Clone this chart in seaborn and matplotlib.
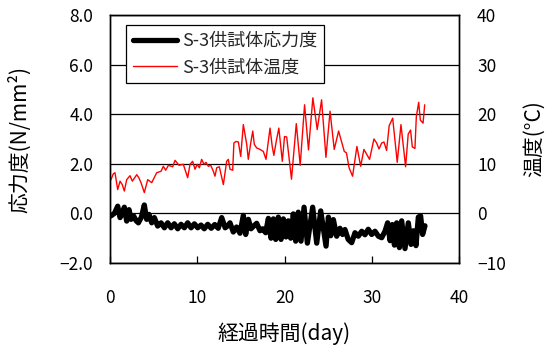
import matplotlib
matplotlib.use("Agg")
import matplotlib.pyplot as plt
from matplotlib.lines import Line2D
import pandas as pd
import seaborn as sns

# ---- data ----
stress_day = [0.1, 0.5, 0.88, 1.15, 1.4, 1.64, 1.91, 2.18, 2.41, 2.7, 3.0, 3.25, 3.6, 3.93,
              4.2, 4.47, 4.78, 5.08, 5.46, 5.85, 6.23, 6.61, 7.0, 7.37, 7.76, 8.14, 8.52,
              8.9, 9.29, 9.67, 10.05, 10.43, 10.8, 11.2, 11.6, 12.0, 12.4, 12.8, 13.2,
              13.5, 13.75, 14.13, 14.5, 14.9, 15.28, 15.55, 15.86, 16.16, 16.5, 16.81,
              17.19, 17.5, 17.84, 18.15, 18.45, 18.72, 18.99, 19.29, 19.6, 19.87, 20.17,
              20.44, 20.71, 21.01, 21.28, 21.58, 21.89, 22.24, 22.62, 23.23, 23.69, 24.15,
              24.76, 25.03, 25.3, 25.6, 25.98, 26.36, 26.65, 26.93, 27.3, 27.7, 28.08,
              28.46, 28.85, 29.22, 29.6, 29.99, 30.37, 30.76, 31.14, 31.52, 31.82, 32.1,
              32.36, 32.6, 32.86, 33.17, 33.43, 33.81, 34.19, 34.5, 34.77, 35.07, 35.34,
              35.6, 35.83, 36.1]
stress_val = [-0.1, 0.0, 0.29, -0.17, 0.0, 0.25, -0.31, 0.15, -0.24, -0.1, -0.3, -0.38,
              -0.15, 0.34, -0.24, -0.04, -0.38, -0.17, -0.51, -0.38, -0.58, -0.38, -0.58,
              -0.42, -0.62, -0.44, -0.58, -0.38, -0.58, -0.42, -0.58, -0.47, -0.62, -0.44,
              -0.6, -0.45, -0.6, -0.17, -0.58, -0.5, -0.38, -0.75, -0.55, -0.8, -0.08,
              -0.85, -0.24, -0.62, -0.5, -0.4, -0.7, -0.62, -0.78, -0.2, -1.0, -0.22,
              -1.05, -0.15, -1.05, -0.22, -0.95, -0.3, -1.0, -0.02, -1.12, 0.05, -1.12,
              0.25, -1.2, 0.25, -1.2, 0.1, -1.32, -0.15, -0.9, -0.25, -0.92, -0.6, -0.85,
              -0.65, -1.05, -1.18, -0.78, -0.92, -0.72, -0.86, -0.64, -0.85, -0.72, -0.92,
              -0.98, -0.72, -0.38, -1.1, -0.45, -1.28, -0.38, -1.38, -0.3, -1.42, -0.38,
              -1.25, -0.7, -1.3, -0.15, -0.1, -0.85, -0.5]

temp_day = [0.11, 0.38, 0.57, 0.88, 1.15, 1.4, 1.64, 1.91, 2.29, 2.56, 3.06, 3.3, 3.55,
            3.93, 4.32, 4.78, 5.35, 5.85, 6.11, 6.38, 6.69, 7.18, 7.45, 7.91, 8.4, 8.9,
            9.17, 9.47, 9.74, 10.0, 10.24, 10.5, 10.77, 11.0, 11.27, 11.54, 11.84, 12.03,
            12.23, 12.53, 12.99, 13.37, 13.56, 13.75, 14.06, 14.2, 14.44, 14.71, 14.98,
            15.28, 15.67, 15.85, 16.13, 16.36, 16.54, 16.81, 17.19, 17.57, 17.88, 18.34,
            18.6, 18.78, 19.08, 19.35, 19.75, 20.0, 20.25, 20.8, 21.35, 21.8, 22.3, 22.75,
            23.25, 23.75, 24.25, 24.75, 25.22, 25.7, 26.2, 26.85, 27.1, 27.4, 27.8, 28.3,
            28.73, 29.1, 29.75, 30.25, 30.56, 30.83, 31.14, 31.4, 31.7, 32.0, 32.4, 32.92,
            33.35, 33.88, 34.18, 34.45, 34.65, 34.95, 35.11, 35.38, 35.57, 35.88, 36.07]
temp_val = [6.8, 8.0, 8.2, 4.8, 6.5, 5.8, 4.5, 6.8, 7.6, 6.5, 7.8, 7.2, 6.2, 4.2, 6.8,
            6.2, 8.2, 8.5, 9.5, 8.7, 9.7, 9.4, 10.7, 9.7, 9.9, 7.2, 9.9, 10.5, 8.9, 9.9,
            9.2, 10.9, 9.9, 10.3, 9.5, 9.7, 8.5, 7.5, 9.2, 9.4, 5.8, 10.5, 10.9, 8.9, 8.7,
            14.2, 14.5, 14.4, 11.5, 17.9, 13.9, 10.9, 14.2, 16.6, 13.9, 13.2, 12.9, 12.5,
            10.9, 17.2, 13.4, 11.7, 14.8, 17.2, 10.5, 15.5, 15.4, 6.9, 18.1, 9.7, 21.9,
            12.8, 23.3, 16.9, 22.9, 11.3, 20.6, 12.9, 16.6, 12.5, 12.2, 9.2, 7.5, 13.5,
            9.5, 12.9, 10.9, 15.0, 14.2, 13.0, 14.2, 14.4, 12.7, 17.7, 19.2, 10.3, 17.9,
            9.4, 16.0, 16.8, 13.4, 13.1, 19.5, 22.4, 18.8, 18.2, 21.9]

x_ticks = [0, 10, 20, 30, 40]
stress_ticks = [-2.0, 0.0, 2.0, 4.0, 6.0, 8.0]
temp_ticks = [-10, 0, 10, 20, 30, 40]
label_stress = "S-3供試体応力度"
label_temp = "S-3供試体温度"
xlabel = "経過時間(day)"
ylabel_left = "応力度(N/mm²)"
ylabel_right = "温度(°C)"

# ---- style ----
sns.set_theme(style="white")
plt.rcParams["font.family"] = ["Noto Sans CJK JP", "DejaVu Sans"]
plt.rcParams["axes.unicode_minus"] = True

fig = plt.figure(figsize=(5.54, 3.45), dpi=100)
fig.subplots_adjust(left=0.1986, right=0.8285, top=0.9565, bottom=0.2377)
ax = fig.add_subplot(111)

df_s = pd.DataFrame({"day": stress_day, "stress": stress_val})
df_t = pd.DataFrame({"day": temp_day, "temp": temp_val})

sns.lineplot(data=df_s, x="day", y="stress", ax=ax, color="black", linewidth=3.8,
             sort=False, estimator=None, legend=False)
ax2 = ax.twinx()
sns.lineplot(data=df_t, x="day", y="temp", ax=ax2, color="#ff0000", linewidth=1.0,
             sort=False, estimator=None, legend=False)

ax.set_xlim(0, 40)
ax.set_ylim(-2, 8)
ax2.set_ylim(-10, 40)
ax.set_xticks(x_ticks)
ax.set_yticks(stress_ticks)
ax.set_yticklabels([f"{v:.1f}".replace("-", "\u2212") for v in stress_ticks])
ax2.set_yticks(temp_ticks)
ax2.set_yticklabels([str(v).replace("-", "\u2212") for v in temp_ticks])

ax.yaxis.grid(True, color="black", linewidth=0.9)
ax.xaxis.grid(False)
ax2.grid(False)

for a in (ax, ax2):
    for s in a.spines.values():
        s.set_color("black")
        s.set_linewidth(1.0)

ax.tick_params(axis="y", length=0, pad=12, labelsize=12.5, colors="black")
ax.tick_params(axis="x", direction="in", length=5, width=0.9, pad=19, labelsize=12.5,
               colors="black", bottom=True, top=False)
ax2.tick_params(axis="y", length=0, pad=13, labelsize=12.5, colors="black")

ax.set_xlabel(xlabel, fontsize=15, color="black")
ax.set_ylabel(ylabel_left, fontsize=15, color="black")
ax2.set_ylabel(ylabel_right, fontsize=15, color="black", rotation=90)
ax.xaxis.set_label_coords(0.5, -0.285)
ax.xaxis.label.set_va("center")
ax.yaxis.set_label_coords(-0.258, 0.5)
ax.yaxis.label.set_va("center")
ax2.yaxis.set_label_coords(1.216, 0.5)
ax2.yaxis.label.set_va("center")

handles = [Line2D([], [], color="black", linewidth=3.8),
           Line2D([], [], color="#ff0000", linewidth=1.0)]
leg = ax2.legend(handles, [label_stress, label_temp], loc="upper left",
                 bbox_to_anchor=(0.046, 0.96), borderaxespad=0, fontsize=13,
                 fancybox=False, frameon=True, framealpha=1, edgecolor="black",
                 handlelength=2.4, handletextpad=0.3, labelspacing=0.45,
                 borderpad=0.4)
leg.get_frame().set_linewidth(0.9)

fig.savefig("out.png", dpi=100)
